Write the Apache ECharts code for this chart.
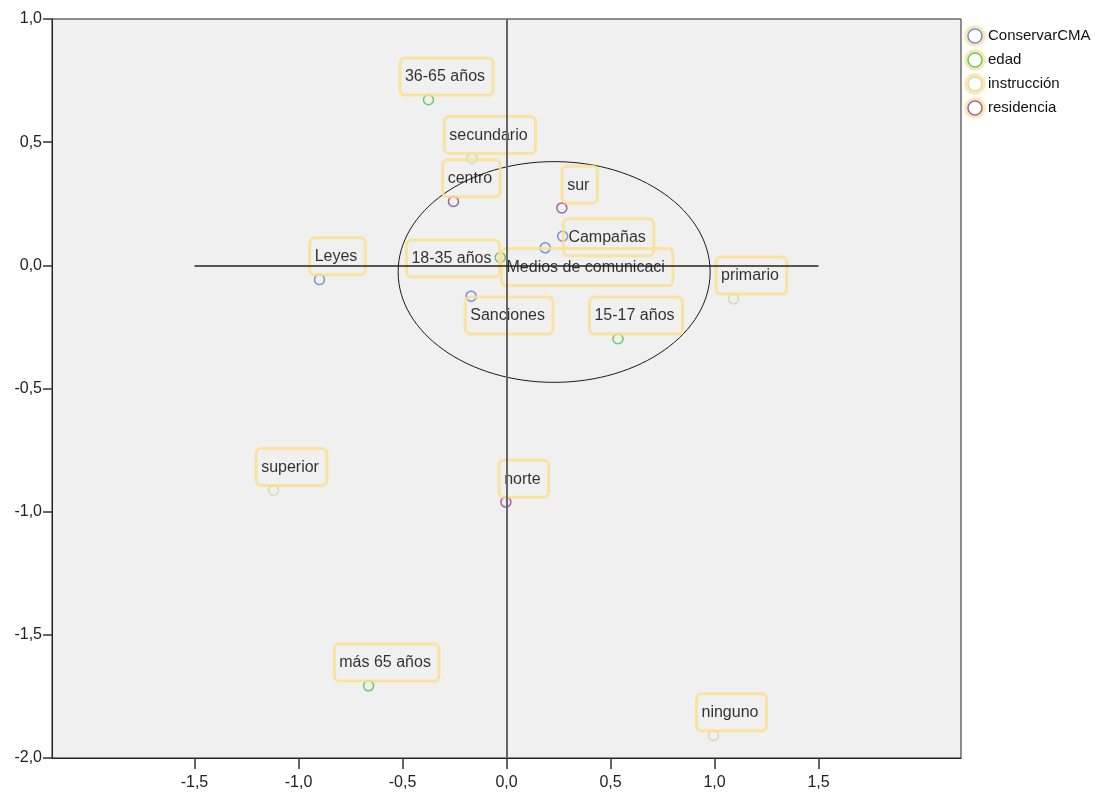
<!DOCTYPE html>
<html>
<head>
<meta charset="utf-8">
<script src="https://cdn.jsdelivr.net/npm/echarts@6/dist/echarts.min.js"></script>
<style>
html,body{margin:0;padding:0;background:#fff;}
#chart{width:1099px;height:796px;}
</style>
</head>
<body>
<div id="chart"></div>
<script>
// ---- data ----
const SERIES_NAMES = ['ConservarCMA', 'edad', 'instrucción', 'residencia'];

const conservarLabels = ['Leyes', 'Sanciones', 'Medios de comunicaci', 'Campañas'];
const conservarX = [-0.899, -0.170, 0.186, 0.270];
const conservarY = [-0.058, -0.125, 0.071, 0.118];

const edadLabels = ['36-65 años', '18-35 años', '15-17 años', 'más 65 años'];
const edadX = [-0.375, -0.030, 0.536, -0.663];
const edadY = [0.672, 0.032, -0.298, -1.707];

const instruccionLabels = ['secundario', 'primario', 'superior', 'ninguno'];
const instruccionX = [-0.166, 1.091, -1.120, 0.995];
const instruccionY = [0.435, -0.136, -0.913, -1.909];

const residenciaLabels = ['centro', 'sur', 'norte'];
const residenciaX = [-0.255, 0.266, -0.003];
const residenciaY = [0.259, 0.233, -0.961];

// ellipse: center x, center y, radius x, radius y (data units)
const ELLIPSE = [0.229, -0.027, 0.75, 0.448];

const X_TICKS = [-1.5, -1.0, -0.5, 0.0, 0.5, 1.0, 1.5];

// ---- styles ----
const COLORS = ['#5b78d3', '#43c051', '#d6d2a0', '#8f3f93'];
const LABEL_EXCEPTIONS = {
  '18-35 años': {position: 'left', distance: -5, offset: [0, 1]},
  'Campañas': {position: 'right', distance: -5, offset: [0, 1]},
  'Medios de comunicaci': {position: 'bottom', distance: -5, offset: [42, 0]},
  'Sanciones': {position: 'bottom', distance: -5, offset: [38, 0]}
};

function fmt(v) { return v.toFixed(1).replace('.', ','); }

function legendIcon(color) {
  const svg = "<svg xmlns='http://www.w3.org/2000/svg' width='22' height='22'>" +
    "<circle cx='11' cy='11' r='9' fill='none' stroke='#fde3a0' stroke-width='3.5'/>" +
    "<circle cx='11' cy='11' r='7' fill='none' stroke='" + color + "' stroke-width='1.6'/></svg>";
  return 'image://data:image/svg+xml;charset=utf-8,' + encodeURIComponent(svg);
}

function buildData(labels, xs, ys) {
  return labels.map((name, i) => {
    const item = {name: name, value: [xs[i], ys[i]]};
    if (LABEL_EXCEPTIONS[name]) item.label = LABEL_EXCEPTIONS[name];
    return item;
  });
}

const baseLabel = {
  show: true,
  formatter: '{b}',
  position: 'top',
  distance: -1,
  offset: [18, 0],
  color: '#000',
  fontFamily: 'Liberation Sans, Arial, sans-serif',
  fontSize: 16,
  borderColor: '#fde08c',
  borderWidth: 3,
  borderRadius: 5,
  padding: [11, 8, 10, 5]
};

function scatter(name, data, color) {
  return {
    name: name,
    type: 'scatter',
    symbol: 'circle',
    symbolSize: 10,
    itemStyle: {color: 'rgba(0,0,0,0)', borderColor: color, borderWidth: 1.5},
    label: baseLabel,
    emphasis: {disabled: true},
    z: 3,
    data: data
  };
}

const chart = echarts.init(document.getElementById('chart'), null, {renderer: 'canvas'});

const option = {
  backgroundColor: '#ffffff',
  animation: false,
  textStyle: {fontFamily: 'Liberation Sans, Arial, sans-serif'},
  grid: {
    left: 52, right: 138, top: 19, bottom: 38,
    show: true, backgroundColor: '#f0f0f0', borderColor: '#222', borderWidth: 1
  },
  legend: {
    data: SERIES_NAMES.map((n, i) => ({name: n, icon: legendIcon(COLORS[i])})),
    orient: 'vertical',
    left: 959,
    top: 20,
    itemWidth: 22,
    itemHeight: 22,
    itemGap: 2,
    textStyle: {color: '#111', fontSize: 15, fontFamily: 'Liberation Sans, Arial, sans-serif', padding: [0, 0, 0, -3]}
  },
  xAxis: {
    type: 'value',
    min: -2.185,
    max: 2.185,
    splitLine: {show: false},
    axisLine: {show: true, onZero: false, lineStyle: {color: '#222'}},
    axisTick: {show: true, customValues: X_TICKS, length: 11, lineStyle: {color: '#333', width: 1.5}},
    axisLabel: {customValues: X_TICKS, formatter: fmt, fontSize: 16, color: '#222', margin: 17}
  },
  yAxis: {
    type: 'value',
    min: -2.0,
    max: 1.0,
    interval: 0.5,
    splitLine: {show: false},
    axisLine: {show: true, onZero: false, lineStyle: {color: '#222'}},
    axisTick: {show: true, length: 9, lineStyle: {color: '#333', width: 1.5}},
    axisLabel: {formatter: fmt, fontSize: 16, color: '#222', margin: 10}
  },
  series: [
    {
      name: 'ellipse',
      type: 'custom',
      silent: true,
      z: 1,
      data: [ELLIPSE],
      renderItem: function (params, api) {
        const c = api.coord([api.value(0), api.value(1)]);
        const s = api.size([api.value(2), api.value(3)]);
        return {
          type: 'ellipse',
          shape: {cx: c[0], cy: c[1], rx: s[0], ry: s[1]},
          style: {fill: 'none', stroke: '#1a1a1a', lineWidth: 1}
        };
      },
      markLine: {
        silent: true,
        symbol: ['none', 'none'],
        label: {show: false},
        animation: false,
        data: [
          {xAxis: 0, lineStyle: {color: '#666', width: 2, type: 'solid'}},
          [{coord: [X_TICKS[0], 0], lineStyle: {color: '#222', width: 1.5, type: 'solid'}},
           {coord: [X_TICKS[X_TICKS.length - 1], 0]}]
        ]
      }
    },
    scatter('ConservarCMA', buildData(conservarLabels, conservarX, conservarY), COLORS[0]),
    scatter('edad', buildData(edadLabels, edadX, edadY), COLORS[1]),
    scatter('instrucción', buildData(instruccionLabels, instruccionX, instruccionY), COLORS[2]),
    scatter('residencia', buildData(residenciaLabels, residenciaX, residenciaY), COLORS[3])
  ]
};
chart.setOption(option);
</script>
</body>
</html>
